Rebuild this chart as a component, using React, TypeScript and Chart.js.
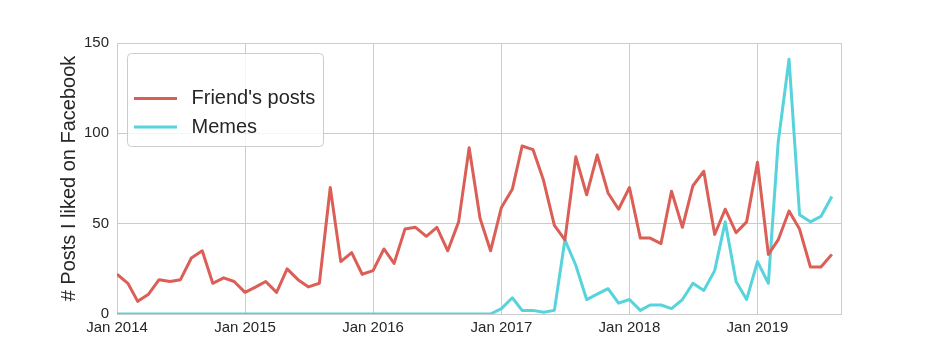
import { useEffect, useRef } from "react";
import { Chart, registerables } from "chart.js";

Chart.register(...registerables);

// ---- data ----
const startYear = 2014;
const monthCount = 68; // Jan 2014 .. Aug 2019

const friendsPosts = [
  22, 17, 7, 11, 19, 18, 19, 31, 35, 17, 20, 18,
  12, 15, 18, 12, 25, 19, 15, 17, 70, 29, 34, 22,
  24, 36, 28, 47, 48, 43, 48, 35, 51, 92, 53, 35,
  59, 69, 93, 91, 74, 49, 41, 87, 66, 88, 67, 58,
  70, 42, 42, 39, 68, 48, 71, 79, 44, 58, 45, 51,
  84, 33, 41, 57, 47, 26, 26, 33,
];

const memes = [
  0, 0, 0, 0, 0, 0, 0, 0, 0, 0, 0, 0,
  0, 0, 0, 0, 0, 0, 0, 0, 0, 0, 0, 0,
  0, 0, 0, 0, 0, 0, 0, 0, 0, 0, 0, 0,
  3, 9, 2, 2, 1, 2, 41, 27, 8, 11, 14, 6,
  8, 2, 5, 5, 3, 8, 17, 13, 24, 51, 18, 8,
  29, 17, 95, 141, 55, 51, 54, 65,
];

const xTickYears = [2014, 2015, 2016, 2017, 2018, 2019];
const xTickLabels = ["Jan 2014", "Jan 2015", "Jan 2016", "Jan 2017", "Jan 2018", "Jan 2019"];
const yTicks = [0, 50, 100, 150];

const seriesNames = ["Friend's posts", "Memes"];
const seriesColors = ["#db5f57", "#57d3db"];

const DAY = 86400000;
const origin = Date.UTC(startYear, 0, 1);
const dayOf = (y: number, m: number) => (Date.UTC(y, m, 1) - origin) / DAY;
const monthDays = Array.from({ length: monthCount }, (_, i) => dayOf(startYear, i));
const xTickDays = xTickYears.map((y) => dayOf(y, 0));
const xMax = dayOf(2019, 7) + 29;

const FONT = "'Liberation Sans', Arial, Helvetica, sans-serif";
const TEXT = "#262626";
const GRID = "#cccccc";

const borderPlugin = {
  id: "frameBorder",
  beforeDatasetsDraw(chart: any) {
    const { ctx, chartArea: a } = chart;
    ctx.save();
    ctx.strokeStyle = GRID;
    ctx.lineWidth = 1;
    ctx.strokeRect(Math.round(a.left) + 0.5, Math.round(a.top) + 0.5, Math.round(a.right - a.left) - 1, Math.round(a.bottom - a.top));
    ctx.restore();
  },
};

const legendPlugin = {
  id: "boxLegend",
  afterDatasetsDraw(chart: any) {
    const { ctx, chartArea: a } = chart;
    const x = a.left + 10.5;
    const y = a.top + 10.5;
    const w = 196;
    const h = 93;
    ctx.save();
    ctx.beginPath();
    if (ctx.roundRect) ctx.roundRect(x, y, w, h, 4);
    else ctx.rect(x, y, w, h);
    ctx.fillStyle = "rgba(255,255,255,0.8)";
    ctx.fill();
    ctx.strokeStyle = GRID;
    ctx.lineWidth = 1;
    ctx.stroke();
    const rows = [98.5, 127];
    seriesNames.forEach((name, i) => {
      const ry = rows[i];
      ctx.beginPath();
      ctx.moveTo(a.left + 17, ry);
      ctx.lineTo(a.left + 60, ry);
      ctx.strokeStyle = seriesColors[i];
      ctx.lineWidth = 3;
      ctx.stroke();
      ctx.fillStyle = TEXT;
      ctx.font = `20px ${FONT}`;
      ctx.textAlign = "left";
      ctx.textBaseline = "middle";
      ctx.fillText(name, a.left + 74.5, ry);
    });
    ctx.restore();
  },
};

export default function App() {
  const ref = useRef<HTMLCanvasElement | null>(null);

  useEffect(() => {
    if (!ref.current) return;
    const chart = new Chart(ref.current, {
      type: "line",
      data: {
        datasets: [
          {
            label: seriesNames[0],
            data: friendsPosts.map((v, i) => ({ x: monthDays[i], y: v })),
            borderColor: seriesColors[0],
            backgroundColor: seriesColors[0],
            borderWidth: 3,
            pointRadius: 0,
            tension: 0,
            borderJoinStyle: "round",
          },
          {
            label: seriesNames[1],
            data: memes.map((v, i) => ({ x: monthDays[i], y: v })),
            borderColor: seriesColors[1],
            backgroundColor: seriesColors[1],
            borderWidth: 3,
            pointRadius: 0,
            tension: 0,
            borderJoinStyle: "round",
          },
        ],
      },
      options: {
        animation: false,
        responsive: false,
        maintainAspectRatio: false,
        layout: { padding: { left: 0, top: 43, right: 94, bottom: 0 } },
        plugins: {
          legend: { display: false },
          tooltip: { enabled: false },
        },
        scales: {
          x: {
            type: "linear",
            min: 0,
            max: xMax,
            afterBuildTicks: (scale: any) => {
              scale.ticks = xTickDays.map((v) => ({ value: v }));
            },
            afterFit: (scale: any) => {
              scale.height = 46;
            },
            ticks: {
              autoSkip: false,
              maxRotation: 0,
              padding: 5,
              color: TEXT,
              font: { family: FONT, size: 15 },
              callback: (v: any) => {
                const i = xTickDays.indexOf(Number(v));
                return i >= 0 ? xTickLabels[i] : "";
              },
            },
            grid: { color: GRID, drawTicks: false, lineWidth: 1 },
            border: { display: false },
          },
          y: {
            min: 0,
            max: 150,
            afterBuildTicks: (scale: any) => {
              scale.ticks = yTicks.map((v) => ({ value: v }));
            },
            afterFit: (scale: any) => {
              scale.width = 117;
            },
            ticks: {
              padding: 8,
              color: TEXT,
              font: { family: FONT, size: 15 },
            },
            grid: { color: GRID, drawTicks: false, lineWidth: 1 },
            border: { display: false },
            title: {
              display: true,
              text: "# Posts I liked on Facebook",
              color: TEXT,
              font: { family: FONT, size: 20 },
              padding: { top: 57, bottom: 0 },
            },
          },
        },
      },
      plugins: [borderPlugin, legendPlugin],
    });
    return () => chart.destroy();
  }, []);

  return (
    <div style={{ position: "absolute", left: 0, top: 0, width: 936, height: 360, background: "#fff" }}>
      <canvas ref={ref} width={936} height={360} style={{ width: 936, height: 360, display: "block" }} />
    </div>
  );
}
